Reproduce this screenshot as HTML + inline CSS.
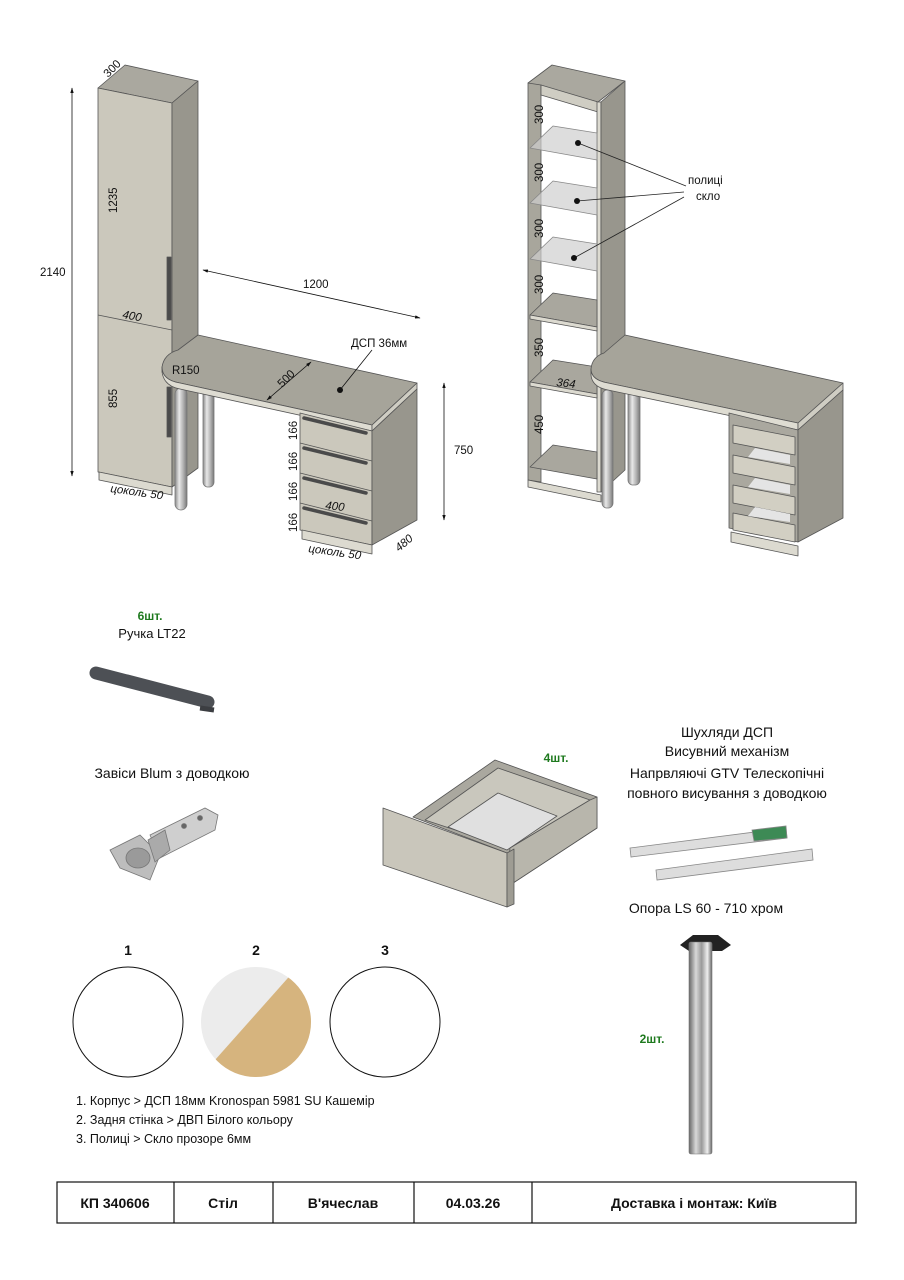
<!DOCTYPE html>
<html><head><meta charset="utf-8"><style>
html,body{margin:0;padding:0;background:#fff}
svg{display:block}
text{font-family:"Liberation Sans","DejaVu Sans",sans-serif;fill:#111}
</style></head><body>
<svg width="904" height="1280" viewBox="0 0 904 1280" xmlns="http://www.w3.org/2000/svg">
<defs>
<marker id="ar" viewBox="0 0 10 10" refX="9" refY="5" markerWidth="7" markerHeight="7" orient="auto-start-reverse"><path d="M0,2 L10,5 L0,8 Z" fill="#111"/></marker>
<linearGradient id="leg" x1="0" x2="1"><stop offset="0" stop-color="#8a8a8a"/><stop offset="0.35" stop-color="#e8e8e8"/><stop offset="0.7" stop-color="#b0b0b0"/><stop offset="1" stop-color="#777"/></linearGradient>
<linearGradient id="leg2" x1="0" x2="1"><stop offset="0" stop-color="#666"/><stop offset="0.3" stop-color="#d8d8d8"/><stop offset="0.55" stop-color="#999"/><stop offset="0.8" stop-color="#eee"/><stop offset="1" stop-color="#666"/></linearGradient>
<clipPath id="c2"><circle cx="256" cy="1022" r="55"/></clipPath>
</defs>
<g stroke="#555" stroke-width="0.8" stroke-linejoin="round">
<!-- LEFT DRAWING -->
<polygon points="98,88 125,65 198,81 172,103" fill="#aaa89f"/>
<polygon points="98,88 172,103 172,487 98,472" fill="#cbc8bc"/>
<polygon points="172,103 198,81 198,468 172,487" fill="#98968d"/>
<polygon points="99,472 172,487 172,495 99,480" fill="#dcdad0"/>
<line x1="98" y1="315" x2="172" y2="330"/>
<rect x="167" y="257" width="4" height="63" fill="#4b4b4b"/>
<rect x="167" y="387" width="4" height="50" fill="#4b4b4b"/>
<rect x="203" y="385" width="11" height="102" rx="5" fill="url(#leg)" stroke="#777"/>
<rect x="175" y="388" width="12" height="122" rx="6" fill="url(#leg)" stroke="#777"/>
<path d="M198,335 L417,383 L372,425 L180,383 Q162,380 162,367 Q164,354 178,350 Z" fill="#a6a49a"/>
<path d="M180,383 L372,425 L372,431 L180,389 Q164,386 162,372 L162,367 Q162,380 180,383 Z" fill="#dedcd2"/>
<polygon points="372,425 417,383 417,389 372,431" fill="#cfcdc3"/>
<polygon points="300,413 372,431 372,545 300,530" fill="#cbc8bc"/>
<polygon points="372,431 417,389 417,520 372,545" fill="#98968d"/>
<polygon points="302,530 372,545 372,554 302,539" fill="#dcdad0"/>
<line x1="300" y1="443" x2="372" y2="461"/>
<line x1="300" y1="473" x2="372" y2="491"/>
<line x1="300" y1="503" x2="372" y2="521"/>
<g stroke="#4a4a4a" stroke-width="3.5" stroke-linecap="round">
<line x1="304" y1="418" x2="366" y2="433"/>
<line x1="304" y1="448" x2="366" y2="463"/>
<line x1="304" y1="478" x2="366" y2="493"/>
<line x1="304" y1="508" x2="366" y2="523"/>
</g>
</g>
<g stroke="#111" stroke-width="0.8" fill="none">
<line x1="72" y1="88" x2="72" y2="476" marker-start="url(#ar)" marker-end="url(#ar)"/>
<line x1="203" y1="270" x2="420" y2="318" marker-start="url(#ar)" marker-end="url(#ar)"/>
<line x1="444" y1="383" x2="444" y2="520" marker-start="url(#ar)" marker-end="url(#ar)"/>
<line x1="267" y1="400" x2="311" y2="362" marker-start="url(#ar)" marker-end="url(#ar)"/>
<line x1="372" y1="350" x2="340" y2="390"/>
</g>
<circle cx="340" cy="390" r="3" fill="#111"/>
<g font-size="11.5">
<text x="40" y="276">2140</text>
<text transform="translate(108,78) rotate(-45)">300</text>
<text transform="translate(117,213) rotate(-90)">1235</text>
<text transform="translate(117,408) rotate(-90)">855</text>
<text transform="translate(122,318) rotate(10)" font-style="italic">400</text>
<text x="303" y="288">1200</text>
<text x="351" y="347">ДСП 36мм</text>
<text x="172" y="374">R150</text>
<text transform="translate(282,388) rotate(-45)">500</text>
<text x="454" y="454">750</text>
<text transform="translate(297,440) rotate(-90)">166</text>
<text transform="translate(297,471) rotate(-90)">166</text>
<text transform="translate(297,501) rotate(-90)">166</text>
<text transform="translate(297,532) rotate(-90)">166</text>
<text transform="translate(325,509) rotate(6)" font-style="italic">400</text>
<text transform="translate(110,492) rotate(8)" font-style="italic">цоколь 50</text>
<text transform="translate(308,552) rotate(8)" font-style="italic">цоколь 50</text>
<text transform="translate(399,552) rotate(-40)" font-style="italic">480</text>
</g>

<!-- RIGHT DRAWING -->
<g stroke="#555" stroke-width="0.8" stroke-linejoin="round">
<polygon points="528,83 552,65 625,81 598,102" fill="#aaa89f"/>
<polygon points="528,83 541,85 541,482 528,480" fill="#a8a69c"/>
<polygon points="541,85 598,102 598,112 541,95" fill="#cfcdc3"/>
<polygon points="597,102 601,102 601,492 597,492" fill="#dcdad0"/>
<polygon points="601,102 625,81 625,470 601,492" fill="#98968d"/>
<polygon points="528,480 601,495 601,502 528,487" fill="#dcdad0"/>
<g fill="#cfcfcf" fill-opacity="0.7" stroke="#888">
<polygon points="530,148 553,126 597,133 597,160"/>
<polygon points="530,203 553,181 597,188 597,215"/>
<polygon points="530,259 553,237 597,244 597,271"/>
</g>
<g fill="#a9a79e">
<polygon points="530,315 553,293 597,300 597,327"/>
<polygon points="530,382 553,360 597,367 597,394"/>
<polygon points="530,467 553,445 597,452 597,479"/>
</g>
<g fill="#dcdad0">
<polygon points="530,315 597,327 597,331 530,319"/>
<polygon points="530,382 597,394 597,398 530,386"/>
</g>
<rect x="602" y="390" width="11" height="118" rx="5" fill="url(#leg)" stroke="#777"/>
<rect x="628" y="388" width="12" height="97" rx="5" fill="url(#leg)" stroke="#777"/>
<path d="M625,335 L843,383 L798,423 L608,383 Q591,380 591,369 Q592,357 604,353 Z" fill="#a6a49a"/>
<path d="M608,383 L798,423 L798,430 L608,390 Q592,387 591,375 L591,369 Q591,380 608,383 Z" fill="#dedcd2"/>
<polygon points="798,423 843,383 843,390 798,430" fill="#cfcdc3"/>
<polygon points="729,413 798,430 798,542 729,528" fill="#aaa89f"/>
<polygon points="798,430 843,390 843,518 798,542" fill="#98968d"/>
<polygon points="731,532 798,546 798,556 731,542" fill="#dcdad0"/>
<g fill="#d2cfc3">
<polygon points="733,425 795,437 795,455 733,443"/>
<polygon points="733,455 795,467 795,485 733,473"/>
<polygon points="733,485 795,497 795,515 733,503"/>
<polygon points="733,513 795,525 795,542 733,530"/>
</g>
<g fill="#e4e4e4" stroke="none">
<polygon points="755,448 790,455 790,464 748,457"/>
<polygon points="755,478 790,485 790,494 748,487"/>
<polygon points="755,507 790,514 790,522 748,516"/>
</g>
</g>
<g stroke="#222" stroke-width="0.8">
<line x1="578" y1="143" x2="686" y2="186"/>
<line x1="577" y1="201" x2="684" y2="192"/>
<line x1="574" y1="258" x2="684" y2="197"/>
</g>
<circle cx="578" cy="143" r="3" fill="#111"/><circle cx="577" cy="201" r="3" fill="#111"/><circle cx="574" cy="258" r="3" fill="#111"/>
<g font-size="11.5">
<text transform="translate(543,124) rotate(-90)">300</text>
<text transform="translate(543,182) rotate(-90)">300</text>
<text transform="translate(543,238) rotate(-90)">300</text>
<text transform="translate(543,294) rotate(-90)">300</text>
<text transform="translate(543,357) rotate(-90)">350</text>
<text transform="translate(543,434) rotate(-90)">450</text>
<text transform="translate(556,386) rotate(6)" font-style="italic">364</text>
<text x="688" y="184">полиці</text>
<text x="696" y="200">скло</text>
</g>

<!-- BOTTOM ITEMS -->
<text x="150" y="620" font-size="12" font-weight="bold" text-anchor="middle" style="fill:#1f7a1f">6шт.</text>
<text x="152" y="638" font-size="13" text-anchor="middle">Ручка LT22</text>
<line x1="96" y1="673" x2="208" y2="702" stroke="#4d5055" stroke-width="13" stroke-linecap="round"/>
<line x1="200" y1="708" x2="214" y2="710" stroke="#3c3e42" stroke-width="5"/>
<text x="172" y="778" font-size="14" text-anchor="middle">Завіси Blum з доводкою</text>
<g stroke="#777" stroke-width="0.8">
<polygon points="150,835 205,808 218,815 215,830 160,858" fill="#cfcfcf"/>
<polygon points="110,850 140,835 160,855 150,880 120,868" fill="#bdbdbd"/>
<ellipse cx="138" cy="858" rx="12" ry="10" fill="#9a9a9a"/>
<polygon points="148,840 165,830 170,850 155,862" fill="#aaa"/>
<circle cx="184" cy="826" r="2.5" fill="#666"/><circle cx="200" cy="818" r="2.5" fill="#666"/>
</g>
<g stroke="#555" stroke-width="0.8" stroke-linejoin="round">
<polygon points="413,817 495,760 597,797 597,828 507,887 507,853" fill="#aaa89f"/>
<polygon points="425,820 498,768 590,800 510,848" fill="#c9c7bd"/>
<polygon points="448,827 498,793 557,816 507,850" fill="#e0e0e0"/>
<polygon points="510,848 590,800 597,797 597,828 507,887" fill="#b8b6ac"/>
<polygon points="383,808 507,853 507,907 383,865" fill="#c9c6bb"/>
<polygon points="507,853 514,849 514,904 507,907" fill="#9e9c93"/>
</g>
<text x="556" y="762" font-size="12" font-weight="bold" text-anchor="middle" style="fill:#1f7a1f">4шт.</text>
<g font-size="14" text-anchor="middle">
<text x="727" y="737">Шухляди ДСП</text>
<text x="727" y="756">Висувний механізм</text>
<text x="727" y="778">Напрвляючі GTV Телескопічні</text>
<text x="727" y="798">повного висування з доводкою</text>
<text x="706" y="913">Опора LS 60 - 710 хром</text>
</g>
<g stroke="#888" stroke-width="0.8">
<polygon points="630,848 786,828 787,838 631,857" fill="#ddd"/>
<polygon points="752,830 786,826 787,838 754,841" fill="#3d8a55"/>
<polygon points="656,870 812,849 813,860 657,880" fill="#ddd"/>
</g>
<polygon points="680,945 693,935 718,935 731,945 722,951 689,951" fill="#222"/>
<rect x="689" y="942" width="23" height="212" rx="2" fill="url(#leg2)" stroke="#777" stroke-width="0.6"/>
<text x="652" y="1043" font-size="12" font-weight="bold" text-anchor="middle" style="fill:#1f7a1f">2шт.</text>

<g font-size="14" font-weight="bold" text-anchor="middle">
<text x="128" y="955">1</text><text x="256" y="955">2</text><text x="385" y="955">3</text>
</g>
<circle cx="128" cy="1022" r="55" fill="#fff" stroke="#111" stroke-width="1"/>
<g clip-path="url(#c2)">
<rect x="200" y="966" width="112" height="112" fill="#ececec"/>
<polygon points="295,970 215,1060 215,1080 320,1080 320,970" fill="#d6b47e"/>
</g>
<circle cx="385" cy="1022" r="55" fill="#fff" stroke="#111" stroke-width="1"/>
<g font-size="12.5">
<text x="76" y="1105">1. Корпус &gt; ДСП 18мм Kronospan 5981 SU Кашемір</text>
<text x="76" y="1124">2. Задня стінка &gt; ДВП Білого кольору</text>
<text x="76" y="1143">3. Полиці &gt; Скло прозоре 6мм</text>
</g>

<!-- TABLE -->
<rect x="57" y="1182" width="799" height="41" fill="none" stroke="#111" stroke-width="1.2"/>
<g stroke="#111" stroke-width="1.2">
<line x1="174" y1="1182" x2="174" y2="1223"/><line x1="273" y1="1182" x2="273" y2="1223"/>
<line x1="414" y1="1182" x2="414" y2="1223"/><line x1="532" y1="1182" x2="532" y2="1223"/>
</g>
<g font-size="14" font-weight="bold" text-anchor="middle">
<text x="115" y="1208">КП 340606</text>
<text x="223" y="1208">Стіл</text>
<text x="343" y="1208">В'ячеслав</text>
<text x="473" y="1208">04.03.26</text>
<text x="694" y="1208">Доставка і монтаж: Київ</text>
</g>
</svg>
</body></html>
